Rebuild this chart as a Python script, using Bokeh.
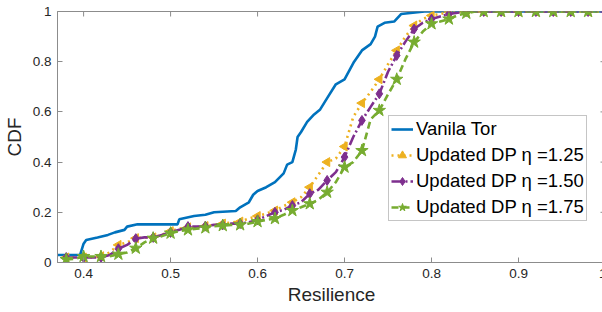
import math
from bokeh.plotting import figure
from bokeh.models import FixedTicker, Range1d, Legend, LegendItem
from bokeh.embed import file_html
from bokeh.resources import INLINE

# ---- data ----
x_ticks = [0.4, 0.5, 0.6, 0.7, 0.8, 0.9, 1.0]
x_tick_labels = ["0.4", "0.5", "0.6", "0.7", "0.8", "0.9", "1"]
y_ticks = [0, 0.2, 0.4, 0.6, 0.8, 1.0]
y_tick_labels = ["0", "0.2", "0.4", "0.6", "0.8", "1"]

tor_x = [0.37, 0.396, 0.40, 0.403, 0.416, 0.428, 0.436, 0.447, 0.45, 0.462, 0.508, 0.51,
         0.527, 0.54, 0.55, 0.575, 0.58, 0.59, 0.595, 0.60, 0.61, 0.62, 0.63, 0.634,
         0.64, 0.644, 0.646, 0.65, 0.657, 0.665, 0.672, 0.68, 0.69, 0.70, 0.711, 0.72,
         0.73, 0.735, 0.738, 0.746, 0.757, 0.765, 0.792, 1.0]
tor_y = [0.03, 0.03, 0.075, 0.09, 0.10, 0.11, 0.12, 0.13, 0.143, 0.152, 0.152, 0.172,
         0.185, 0.19, 0.20, 0.205, 0.22, 0.24, 0.27, 0.285, 0.30, 0.32, 0.355, 0.39,
         0.40, 0.45, 0.50, 0.52, 0.56, 0.59, 0.61, 0.655, 0.71, 0.73, 0.80, 0.845,
         0.87, 0.90, 0.94, 0.955, 0.96, 0.99, 1.0, 1.0]

dp_x = [0.38, 0.39, 0.40, 0.41, 0.42, 0.43, 0.44, 0.45, 0.46, 0.47, 0.48, 0.49, 0.50,
        0.51, 0.52, 0.53, 0.54, 0.55, 0.56, 0.57, 0.58, 0.59, 0.60, 0.61, 0.62, 0.63,
        0.64, 0.65, 0.66, 0.67, 0.68, 0.69, 0.70, 0.71, 0.72, 0.73, 0.74, 0.75, 0.76,
        0.77, 0.78, 0.79, 0.80, 0.81, 0.82, 0.83, 0.84, 0.85, 0.86, 0.87, 0.88, 0.89,
        0.90, 0.91, 0.92, 0.93, 0.94, 0.95, 0.96, 0.97, 0.98, 0.99, 1.00]
dp_125 = [0.02, 0.02, 0.02, 0.02, 0.025, 0.04, 0.07, 0.08, 0.097, 0.10, 0.10, 0.11, 0.125,
          0.135, 0.14, 0.14, 0.145, 0.15, 0.155, 0.16, 0.163, 0.175, 0.185, 0.195, 0.207, 0.225,
          0.24, 0.26, 0.30, 0.35, 0.40, 0.414, 0.462, 0.58, 0.635, 0.68, 0.73, 0.79, 0.845,
          0.90, 0.944, 0.97, 0.984, 0.99, 0.999, 1.0, 1.0, 1.0, 1.0, 1.0, 1.0, 1.0,
          1.0, 1.0, 1.0, 1.0, 1.0, 1.0, 1.0, 1.0, 1.0, 1.0, 1.0]
dp_150 = [0.02, 0.02, 0.02, 0.02, 0.02, 0.03, 0.055, 0.07, 0.095, 0.10, 0.10, 0.11, 0.12,
          0.13, 0.143, 0.143, 0.145, 0.15, 0.15, 0.155, 0.155, 0.16, 0.17, 0.185, 0.20, 0.21,
          0.227, 0.24, 0.274, 0.29, 0.327, 0.36, 0.42, 0.50, 0.566, 0.62, 0.672, 0.76, 0.825,
          0.88, 0.93, 0.955, 0.97, 0.98, 0.99, 0.995, 1.0, 1.0, 1.0, 1.0, 1.0, 1.0,
          1.0, 1.0, 1.0, 1.0, 1.0, 1.0, 1.0, 1.0, 1.0, 1.0, 1.0]
dp_175 = [0.012, 0.015, 0.024, 0.024, 0.024, 0.025, 0.033, 0.04, 0.057, 0.08, 0.097, 0.105, 0.117,
          0.125, 0.13, 0.135, 0.138, 0.145, 0.147, 0.15, 0.15, 0.155, 0.163, 0.17, 0.175, 0.19,
          0.207, 0.22, 0.234, 0.25, 0.28, 0.32, 0.38, 0.40, 0.446, 0.57, 0.606, 0.67, 0.73,
          0.81, 0.878, 0.92, 0.951, 0.96, 0.97, 0.985, 0.993, 1.0, 1.0, 1.0, 1.0, 1.0,
          1.0, 1.0, 1.0, 1.0, 1.0, 1.0, 1.0, 1.0, 1.0, 1.0, 1.0]

series_labels = ["Vanila Tor", "Updated DP \u03b7 =1.25", "Updated DP \u03b7 =1.50", "Updated DP \u03b7 =1.75"]

# ---- figure ----
FONT = "Liberation Sans"
TXT = "#262626"
AX = "#8c8c8c"
X0, X1, Y0, Y1 = 0.37, 1.0, 0.0, 1.0
FW, FH = 548, 251

p = figure(frame_width=FW, frame_height=FH, output_backend="svg", toolbar_location=None,
           x_range=Range1d(X0, X1), y_range=Range1d(Y0, Y1),
           min_border_left=53, min_border_right=1, min_border_top=11, min_border_bottom=49)
p.background_fill_color = "white"
p.border_fill_color = "white"
p.outline_line_color = AX
p.outline_line_width = 1
p.grid.visible = False

for ax in (p.xaxis[0], p.yaxis[0]):
    ax.axis_line_color = AX
    ax.major_tick_line_color = AX
    ax.major_tick_in = 5
    ax.major_tick_out = 0
    ax.minor_tick_line_color = None
    ax.major_label_text_font = FONT
    ax.major_label_text_font_size = "13.5px"
    ax.major_label_text_color = TXT
    ax.axis_label_text_font = FONT
    ax.axis_label_text_font_size = "19px"
    ax.axis_label_text_font_style = "normal"
    ax.axis_label_text_color = TXT

p.xaxis.ticker = FixedTicker(ticks=x_ticks)
p.xaxis.major_label_overrides = dict(zip(x_ticks, x_tick_labels))
p.yaxis.ticker = FixedTicker(ticks=y_ticks)
p.yaxis.major_label_overrides = dict(zip(y_ticks, y_tick_labels))
p.xaxis.axis_label = "Resilience"
p.yaxis.axis_label = "CDF"
p.xaxis.major_label_standoff = 6
p.xaxis.axis_label_standoff = 3
p.yaxis.major_label_standoff = 6
p.yaxis.axis_label_standoff = 5

# inward ticks on top and right edges of the box (5px long)
tx = 5 * (X1 - X0) / FW
ty = 5 * (Y1 - Y0) / FH
p.segment(x0=x_ticks, y0=[Y1] * len(x_ticks), x1=x_ticks, y1=[Y1 - ty] * len(x_ticks),
          line_color=AX, line_width=1)
p.segment(x0=[X1] * len(y_ticks), y0=y_ticks, x1=[X1 - tx] * len(y_ticks), y1=y_ticks,
          line_color=AX, line_width=1)

# ---- data glyphs ----
items = []
r0 = p.line(tor_x, tor_y, line_color="#0072BD", line_width=2.6)
items.append(LegendItem(label=series_labels[0], renderers=[r0]))

mx = [x for x in dp_x if round(x * 100) % 2 == 0 and x <= 0.985]
specs = [
    (dp_125, "#EDB120", "2 4", "triangle", math.pi / 2, 9),
    (dp_150, "#7E2F8E", "11 3 2 3", "diamond", 0, 10),
    (dp_175, "#77AC30", "7 4", "star", 0, 13),
]
for i, (ys, col, dash, mk, ang, sz) in enumerate(specs):
    rl = p.line(dp_x, ys, line_color=col, line_width=2.6, line_dash=dash)
    my = [y for x, y in zip(dp_x, ys) if round(x * 100) % 2 == 0 and x <= 0.985]
    rm = p.scatter(mx, my, marker=mk, size=sz, angle=ang, fill_color=col, line_color=col)
    items.append(LegendItem(label=series_labels[i + 1], renderers=[rl, rm]))

leg = Legend(items=items, location=(331, 41), margin=0, padding=2, spacing=4,
             label_text_font=FONT, label_text_font_size="18.5px", label_text_color="black",
             glyph_width=22, glyph_height=20, label_height=20, label_standoff=3,
             border_line_color=AX, border_line_width=1, background_fill_alpha=1)
p.add_layout(leg, "center")

open("out.html", "w").write(file_html(p, INLINE))
